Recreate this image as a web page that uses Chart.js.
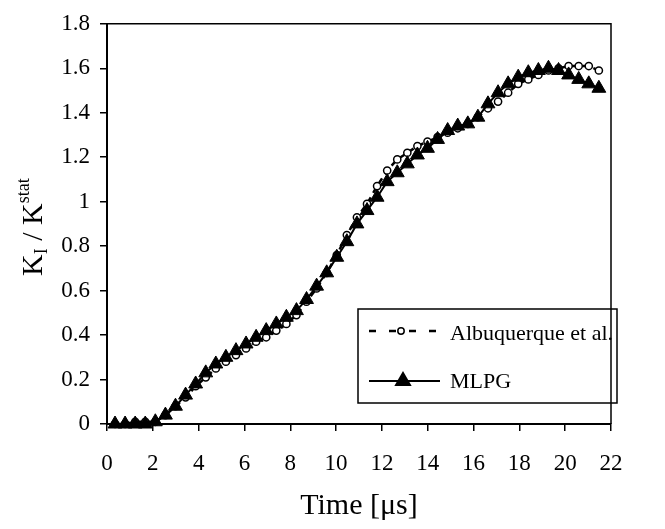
<!DOCTYPE html>
<html>
<head>
<meta charset="utf-8">
<script src="https://cdn.jsdelivr.net/npm/chart.js@4.4.1/dist/chart.umd.min.js"></script>
<style>
  html, body { margin: 0; padding: 0; background: #fff; }
</style>
</head>
<body>
<canvas id="graficoKI" width="665" height="529"></canvas>
<script>
// time axis (µs) - same sampling for both curves
const timeUs = [0.35, 0.79, 1.23, 1.67, 2.11, 2.55, 2.99, 3.43, 3.87, 4.31,
  4.75, 5.19, 5.63, 6.07, 6.51, 6.95, 7.39, 7.83, 8.27, 8.71,
  9.15, 9.59, 10.03, 10.47, 10.91, 11.35, 11.79, 12.23, 12.67, 13.11,
  13.55, 13.99, 14.43, 14.87, 15.31, 15.75, 16.19, 16.63, 17.07, 17.51,
  17.95, 18.39, 18.83, 19.27, 19.71, 20.15, 20.59, 21.03, 21.47];

const kiMlpg = [0, 0, 0, 0, 0.01, 0.04, 0.08, 0.13, 0.18, 0.23,
  0.27, 0.30, 0.33, 0.36, 0.39, 0.42, 0.45, 0.48, 0.51, 0.56,
  0.62, 0.68, 0.75, 0.82, 0.90, 0.96, 1.02, 1.09, 1.13, 1.17,
  1.21, 1.24, 1.28, 1.32, 1.34, 1.35, 1.38, 1.44, 1.49, 1.53,
  1.56, 1.58, 1.59, 1.60, 1.59, 1.57, 1.55, 1.53, 1.51];

const kiAlbuquerque = [0, 0, 0.01, 0.01, 0.01, 0.04, 0.08, 0.12, 0.17, 0.21,
  0.25, 0.28, 0.31, 0.34, 0.37, 0.39, 0.42, 0.45, 0.49, 0.55,
  0.61, 0.68, 0.76, 0.85, 0.93, 0.99, 1.07, 1.14, 1.19, 1.22,
  1.25, 1.27, 1.29, 1.31, 1.33, 1.35, 1.38, 1.42, 1.45, 1.49,
  1.53, 1.55, 1.57, 1.59, 1.60, 1.61, 1.61, 1.61, 1.59];

const xTicks = [0, 2, 4, 6, 8, 10, 12, 14, 16, 18, 20, 22];
const yTicks = [0, 0.2, 0.4, 0.6, 0.8, 1, 1.2, 1.4, 1.6, 1.8];

const legendLabels = ['Albuquerque et al.', 'MLPG'];

const FONT = "'Liberation Serif', 'Times New Roman', serif";

// frame on top/right, y title with sub/superscript, boxed legend
const extrasPlugin = {
  id: 'extras',
  afterDraw(chart) {
    const ctx = chart.ctx;
    const a = chart.chartArea;
    ctx.save();

    ctx.strokeStyle = '#000';
    ctx.lineWidth = 1.5;
    ctx.beginPath();
    ctx.moveTo(a.left, a.top);
    ctx.lineTo(a.right, a.top);
    ctx.lineTo(a.right, a.bottom);
    ctx.stroke();

    // y title: K_I / K^stat
    ctx.translate(42, 276);
    ctx.rotate(-Math.PI / 2);
    ctx.fillStyle = '#000';
    ctx.textBaseline = 'alphabetic';
    ctx.textAlign = 'left';
    let x = 0;
    ctx.font = '30px ' + FONT;
    ctx.fillText('K', x, 0); x += ctx.measureText('K').width;
    ctx.font = '18px ' + FONT;
    ctx.fillText('I', x, 5); x += ctx.measureText('I').width;
    ctx.font = '30px ' + FONT;
    ctx.fillText(' / K', x, 0); x += ctx.measureText(' / K').width;
    ctx.font = '18px ' + FONT;
    ctx.fillText('stat', x, -13);
    ctx.restore();

    // legend box
    ctx.save();
    ctx.strokeStyle = '#000';
    ctx.lineWidth = 1.5;
    ctx.strokeRect(358, 309, 259, 94);

    ctx.lineWidth = 2.5;
    ctx.setLineDash([7, 13]);
    ctx.beginPath();
    ctx.moveTo(369, 331);
    ctx.lineTo(437, 331);
    ctx.stroke();
    ctx.setLineDash([]);
    ctx.lineWidth = 1.5;
    ctx.fillStyle = '#fff';
    ctx.beginPath(); ctx.arc(401, 331, 3.2, 0, Math.PI * 2); ctx.fill(); ctx.stroke();

    ctx.lineWidth = 2;
    ctx.beginPath();
    ctx.moveTo(369, 381);
    ctx.lineTo(440, 381);
    ctx.stroke();
    ctx.fillStyle = '#000';
    Chart.helpers.drawPoint(ctx, {pointStyle: 'triangle', radius: 8, borderWidth: 1, rotation: 0}, 403, 381);

    ctx.fillStyle = '#000';
    ctx.font = '22px ' + FONT;
    ctx.textBaseline = 'alphabetic';
    ctx.fillText(legendLabels[0], 450, 340);
    ctx.fillText(legendLabels[1], 450, 388);
    ctx.restore();
  }
};

const ctx = document.getElementById('graficoKI').getContext('2d');
new Chart(ctx, {
  type: 'line',
  data: {
    labels: timeUs,
    datasets: [
      {
        label: legendLabels[1],
        data: timeUs.map((t, i) => ({x: t, y: kiMlpg[i]})),
        borderColor: '#000',
        backgroundColor: '#000',
        borderWidth: 2,
        pointStyle: 'triangle',
        pointRadius: 8,
        pointBorderWidth: 1,
        pointBackgroundColor: '#000',
        pointBorderColor: '#000',
        tension: 0,
        clip: false
      },
      {
        label: legendLabels[0],
        data: timeUs.map((t, i) => ({x: t, y: kiAlbuquerque[i]})),
        borderColor: '#000',
        backgroundColor: '#fff',
        borderWidth: 2.5,
        borderDash: [6, 5],
        pointStyle: 'circle',
        pointRadius: 3.6,
        pointBorderWidth: 1.5,
        pointBackgroundColor: '#fff',
        pointBorderColor: '#000',
        tension: 0,
        clip: false
      }
    ]
  },
  options: {
    responsive: false,
    animation: false,
    layout: { padding: { top: 18, right: 54, left: 0, bottom: 0 } },
    plugins: {
      legend: { display: false },
      tooltip: { enabled: false }
    },
    scales: {
      x: {
        type: 'linear',
        min: 0,
        max: 22,
        afterFit: s => { s.height = 105; },
        afterBuildTicks: s => { s.ticks = xTicks.map(v => ({value: v})); },
        grid: { drawOnChartArea: false, drawTicks: true, tickLength: 7, color: '#000', lineWidth: 1.5 },
        border: { color: '#000', width: 2 },
        ticks: { color: '#000', font: { family: FONT, size: 23 }, padding: 19, maxRotation: 0 },
        title: { display: true, text: 'Time [μs]', color: '#000', font: { family: FONT, size: 30 }, padding: { top: 0, bottom: 5 } }
      },
      y: {
        type: 'linear',
        min: 0,
        max: 1.8,
        afterFit: s => { s.width = 107; },
        afterBuildTicks: s => { s.ticks = yTicks.map(v => ({value: v})); },
        grid: { drawOnChartArea: false, drawTicks: true, tickLength: 7, color: '#000', lineWidth: 1.5 },
        border: { color: '#000', width: 2 },
        ticks: {
          color: '#000',
          font: { family: FONT, size: 23 },
          padding: 10,
          callback: v => String(Number(v.toFixed(1)))
        }
      }
    }
  },
  plugins: [extrasPlugin]
});
</script>
</body>
</html>
